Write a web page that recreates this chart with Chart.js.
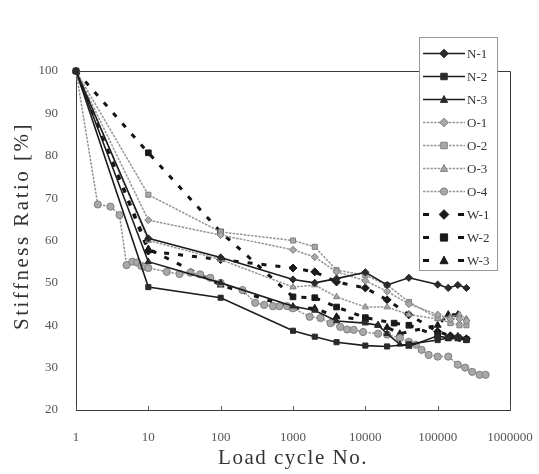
<!DOCTYPE html>
<html><head><meta charset="utf-8">
<script src="https://cdn.jsdelivr.net/npm/chart.js@4.4.1/dist/chart.umd.min.js"></script>
<style>html,body{margin:0;padding:0;background:#fff}canvas{display:block}</style>
</head><body>
<canvas id="c" width="539" height="474"></canvas>
<script>
// ---- data ----
const xTickValues = [1, 10, 100, 1000, 10000, 100000, 1000000];
const yTickValues = [20, 30, 40, 50, 60, 70, 80, 90, 100];

const cyclesN1 = [1, 10, 100, 1000, 2000, 4000, 10000, 20000, 40000, 100000, 140000, 190000, 250000];
const stiffN1  = [100, 60.5, 56, 50.8, 50, 51, 52.5, 49.5, 51.2, 49.6, 48.8, 49.5, 48.8];

const cyclesN2 = [1, 10, 100, 1000, 2000, 4000, 10000, 20000, 40000, 100000, 140000, 190000, 250000];
const stiffN2  = [100, 49, 46.5, 38.7, 37.3, 36, 35.2, 35, 35.5, 36.5, 37, 37, 36.5];

const cyclesN3 = [1, 10, 100, 1000, 2000, 4000, 10000, 15000, 20000, 30000, 40000, 100000, 140000, 190000];
const stiffN3  = [100, 55, 50, 44.5, 43.5, 41, 40.5, 40, 38, 35.5, 35, 37.5, 37, 37.5];

const cyclesO1 = [1, 10, 100, 1000, 2000, 4000, 10000, 20000, 40000, 100000, 150000, 200000, 250000];
const stiffO1  = [100, 64.8, 61.3, 57.8, 56.1, 52.6, 50.5, 48, 45, 42.5, 41.5, 41.5, 41];

const cyclesO2 = [1, 10, 100, 1000, 2000, 4000, 10000, 20000, 40000, 100000, 150000, 200000, 250000];
const stiffO2  = [100, 70.8, 62, 60, 58.5, 53, 51.8, 49.5, 45.5, 41.7, 40.5, 40, 40];

const cyclesO3 = [1, 10, 100, 1000, 2000, 4000, 10000, 20000, 40000, 100000, 150000, 200000, 250000];
const stiffO3  = [100, 60, 55.5, 49, 49.5, 46.7, 44.3, 44.3, 42.5, 41.5, 42, 42.5, 41.5];

const cyclesO4 = [1, 2, 3, 4, 5, 6, 7, 8, 9, 10, 18, 27, 38, 52, 72, 100, 200, 300, 400, 530, 650, 830, 1000, 1700, 2400, 3300, 4500, 5600, 6900, 9300, 15000, 20000, 30000, 40000, 50000, 60000, 75000, 100000, 140000, 190000, 240000, 300000, 380000, 460000];
const stiffO4  = [100, 68.5, 68, 66, 54.2, 55, 54.8, 54, 53.8, 53.5, 52.6, 52.1, 52.4, 52, 51.2, 50, 48.3, 45.3, 44.8, 44.5, 44.5, 44.5, 44, 42, 41.7, 40.5, 39.6, 39, 38.9, 38.4, 38, 37.8, 37, 36.1, 35.4, 34.2, 33, 32.6, 32.6, 30.7, 30, 29, 28.3, 28.3];

const cyclesW1 = [1, 10, 100, 1000, 2000, 4000, 10000, 20000, 40000, 100000, 150000, 200000, 250000];
const stiffW1  = [100, 57.5, 55.5, 53.5, 52.6, 50.2, 48.8, 46, 42.5, 38.5, 37.5, 37, 36.8];

const cyclesW2 = [1, 10, 100, 1000, 2000, 4000, 10000, 25000, 40000, 100000, 140000, 190000, 250000];
const stiffW2  = [100, 80.7, 62, 46.7, 46.5, 44.3, 41.8, 40.5, 40, 37.5, 37, 37, 36.6];

const cyclesW3 = [1, 10, 100, 1000, 2000, 4000, 10000, 15000, 20000, 30000, 100000, 140000, 190000];
const stiffW3  = [100, 58, 49.5, 44, 44, 42, 41.3, 40, 39.5, 38, 40, 42.5, 42.5];

const seriesLabels = ['N-1', 'N-2', 'N-3', 'O-1', 'O-2', 'O-3', 'O-4', 'W-1', 'W-2', 'W-3'];
const seriesCycles = [cyclesN1, cyclesN2, cyclesN3, cyclesO1, cyclesO2, cyclesO3, cyclesO4, cyclesW1, cyclesW2, cyclesW3];
const seriesStiff  = [stiffN1, stiffN2, stiffN3, stiffO1, stiffO2, stiffO3, stiffO4, stiffW1, stiffW2, stiffW3];

// ---- styles ----
const shapeFor = ['rectRot', 'rect', 'triangle', 'rectRot', 'rect', 'triangle', 'circle', 'rectRot', 'rect', 'triangle'];
function styleFor(label) {
  const grp = label[0];
  if (grp === 'N') return {
    borderColor: '#1c1c1c', borderWidth: 1.6, borderDash: [],
    pointBackgroundColor: '#2a2a2a', pointBorderColor: '#2a2a2a', pointRadius: 3.6, pointBorderWidth: 1
  };
  if (grp === 'O') return {
    borderColor: '#959595', borderWidth: 1.5, borderDash: [2.5, 1.2],
    pointBackgroundColor: '#a8a8a8', pointBorderColor: '#808080', pointRadius: 3.6, pointBorderWidth: 1
  };
  return {
    borderColor: '#141414', borderWidth: 3, borderDash: [5, 9],
    pointBackgroundColor: '#1a1a1a', pointBorderColor: '#1a1a1a', pointRadius: 4, pointBorderWidth: 1
  };
}

const datasets = seriesLabels.map((lab, i) => Object.assign({
  label: lab,
  data: seriesCycles[i].map((c, k) => ({x: c, y: seriesStiff[i][k]})),
  pointStyle: shapeFor[i],
  tension: 0,
  fill: false,
  clip: false
}, styleFor(lab)));

const FONT = "'Liberation Serif', 'Times New Roman', serif";

function drawMarker(ctx, style, x, y, r, fill, stroke) {
  ctx.save();
  ctx.fillStyle = fill; ctx.strokeStyle = stroke; ctx.lineWidth = 1; ctx.setLineDash([]);
  ctx.beginPath();
  if (style === 'rectRot') {
    ctx.moveTo(x, y - r * 1.2); ctx.lineTo(x + r * 1.2, y); ctx.lineTo(x, y + r * 1.2); ctx.lineTo(x - r * 1.2, y);
  } else if (style === 'rect') {
    ctx.rect(x - r * 0.9, y - r * 0.9, r * 1.8, r * 1.8);
  } else if (style === 'triangle') {
    ctx.moveTo(x, y - r * 1.1); ctx.lineTo(x + r, y + r * 0.8); ctx.lineTo(x - r, y + r * 0.8);
  } else {
    ctx.arc(x, y, r, 0, Math.PI * 2);
  }
  ctx.closePath(); ctx.fill(); ctx.stroke();
  ctx.restore();
}

const framePlugin = {
  id: 'frame',
  beforeDatasetsDraw(chart) {
    const {ctx, chartArea: a, scales} = chart;
    ctx.save();
    ctx.strokeStyle = '#3a3a3a'; ctx.lineWidth = 1;
    ctx.beginPath();
    ctx.moveTo(a.left, a.top + 0.5); ctx.lineTo(a.right + 0.5, a.top + 0.5); ctx.lineTo(a.right + 0.5, a.bottom);
    ctx.stroke();
    // inward tick marks on x axis
    ctx.strokeStyle = '#555';
    xTickValues.forEach(v => {
      const px = Math.round(scales.x.getPixelForValue(v)) + 0.5;
      ctx.beginPath(); ctx.moveTo(px, a.bottom); ctx.lineTo(px, a.bottom - 4); ctx.stroke();
    });
    ctx.restore();
  },
  afterDraw(chart) {
    const ctx = chart.ctx;
    ctx.save();
    // axis titles
    ctx.fillStyle = '#333';
    ctx.font = '21px ' + FONT;
    ctx.textAlign = 'center'; ctx.textBaseline = 'middle';
    try { ctx.letterSpacing = '1.5px'; } catch (e) {}
    ctx.fillText('Load cycle No.', 293, 458);
    ctx.save();
    ctx.translate(22, 226); ctx.rotate(-Math.PI / 2);
    try { ctx.letterSpacing = '2.5px'; } catch (e) {}
    ctx.fillText('Stiffness Ratio [%]', 0, 0);
    ctx.restore();
    try { ctx.letterSpacing = '0px'; } catch (e) {}
    // legend box
    const L = 419, T = 37, R = 497, B = 270;
    ctx.fillStyle = '#fff';
    ctx.fillRect(L, T, R - L, B - T);
    ctx.strokeStyle = '#999'; ctx.lineWidth = 1;
    ctx.strokeRect(L + 0.5, T + 0.5, R - L, B - T);
    chart.data.datasets.forEach((ds, i) => {
      const y = 53.5 + i * 23;
      ctx.save();
      ctx.strokeStyle = ds.borderColor;
      if (ds.label[0] === 'W') {
        ctx.lineWidth = 3; ctx.setLineDash([]);
        ctx.beginPath(); ctx.moveTo(423, y); ctx.lineTo(429, y); ctx.moveTo(458, y); ctx.lineTo(464, y); ctx.stroke();
      } else {
        ctx.lineWidth = ds.borderWidth; ctx.setLineDash(ds.borderDash);
        ctx.beginPath(); ctx.moveTo(423, y); ctx.lineTo(465, y); ctx.stroke();
      }
      ctx.restore();
      drawMarker(ctx, ds.pointStyle, 444, y, ds.pointRadius, ds.pointBackgroundColor, ds.pointBorderColor);
      ctx.fillStyle = '#333';
      ctx.font = '13px ' + FONT;
      ctx.textAlign = 'left'; ctx.textBaseline = 'middle';
      ctx.fillText(ds.label, 467, y + 1);
    });
    ctx.restore();
  }
};

new Chart(document.getElementById('c'), {
  type: 'line',
  data: {datasets},
  options: {
    responsive: false,
    animation: false,
    devicePixelRatio: 1,
    layout: {padding: {top: 71, right: 29, left: 0, bottom: 0}},
    plugins: {legend: {display: false}, tooltip: {enabled: false}, title: {display: false}},
    scales: {
      x: {
        type: 'logarithmic', min: 1, max: 1000000,
        afterFit: s => { s.height = 64; s.paddingLeft = 0; s.paddingRight = 0; },
        afterBuildTicks: s => { s.ticks = xTickValues.map(v => ({value: v})); },
        ticks: {
          autoSkip: false, maxRotation: 0, padding: 20,
          color: '#555', font: {family: FONT, size: 13},
          callback: v => String(v)
        },
        grid: {display: true, drawOnChartArea: false, drawTicks: false},
        border: {display: true, color: '#3a3a3a', width: 1},
        title: {display: false}
      },
      y: {
        type: 'linear', min: 20, max: 100,
        afterFit: s => { s.width = 76; s.paddingTop = 0; s.paddingBottom = 0; },
        afterBuildTicks: s => { s.ticks = yTickValues.map(v => ({value: v})); },
        ticks: {
          padding: 18, color: '#555', font: {family: FONT, size: 13}
        },
        grid: {display: true, drawOnChartArea: false, drawTicks: false},
        border: {display: true, color: '#3a3a3a', width: 1},
        title: {display: false}
      }
    }
  },
  plugins: [framePlugin]
});
</script>
</body></html>
